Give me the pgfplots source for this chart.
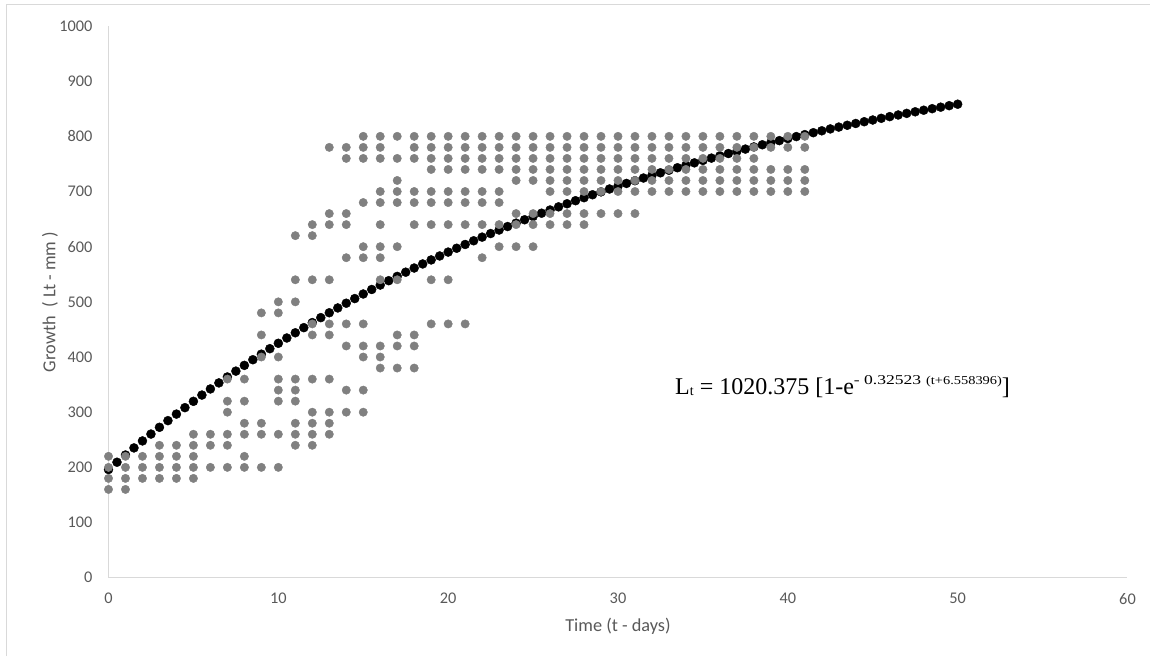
\documentclass[border=0pt]{standalone}
\usepackage{pgfplots}
\usepackage{pgfplotstable}
\pgfplotsset{compat=1.18}
\usepackage{fontspec}
\setmainfont{Carlito}
\newfontfamily\eqfont{Liberation Serif}

\definecolor{axisgray}{HTML}{D9D9D9}
\definecolor{labelgray}{HTML}{595959}
\definecolor{obsgray}{HTML}{808080}

% observed lengths (day, mm)
\pgfplotstableread{
t L
0 160
0 180
0 200
0 220
1 160
1 180
1 200
1 220
2 180
2 200
2 220
3 180
3 200
3 220
3 240
4 180
4 200
4 220
4 240
5 180
5 200
5 220
5 240
5 260
6 200
6 240
6 260
7 200
7 240
7 260
7 300
7 320
7 360
8 200
8 220
8 260
8 280
8 320
8 360
9 200
9 260
9 280
9 400
9 440
9 480
10 200
10 260
10 320
10 340
10 360
10 400
10 480
10 500
11 240
11 260
11 280
11 320
11 340
11 360
11 500
11 540
11 620
12 240
12 260
12 280
12 300
12 360
12 440
12 460
12 540
12 620
12 640
13 260
13 280
13 300
13 360
13 440
13 460
13 540
13 640
13 660
13 780
14 300
14 340
14 420
14 460
14 580
14 640
14 660
14 760
14 780
15 300
15 340
15 400
15 420
15 460
15 580
15 600
15 680
15 760
15 780
15 800
16 380
16 400
16 420
16 540
16 580
16 600
16 640
16 680
16 700
16 760
16 780
16 800
17 380
17 420
17 440
17 540
17 600
17 680
17 700
17 720
17 760
17 800
18 380
18 420
18 440
18 640
18 680
18 700
18 760
18 780
18 800
19 460
19 540
19 640
19 680
19 700
19 740
19 760
19 780
19 800
20 460
20 540
20 640
20 680
20 700
20 740
20 760
20 780
20 800
21 460
21 640
21 680
21 700
21 740
21 760
21 780
21 800
22 580
22 640
22 680
22 700
22 740
22 760
22 780
22 800
23 600
23 640
23 680
23 700
23 740
23 760
23 780
23 800
24 600
24 640
24 660
24 720
24 740
24 760
24 780
24 800
25 600
25 640
25 660
25 720
25 740
25 760
25 780
25 800
26 640
26 660
26 700
26 720
26 740
26 760
26 780
26 800
27 640
27 660
27 700
27 720
27 740
27 760
27 780
27 800
28 640
28 660
28 700
28 720
28 740
28 760
28 780
28 800
29 660
29 700
29 720
29 740
29 760
29 780
29 800
30 660
30 700
30 720
30 740
30 760
30 780
30 800
31 660
31 700
31 720
31 740
31 760
31 780
31 800
32 700
32 720
32 740
32 760
32 780
32 800
33 700
33 720
33 740
33 760
33 780
33 800
34 700
34 720
34 740
34 760
34 780
34 800
35 700
35 720
35 740
35 760
35 780
35 800
36 700
36 720
36 740
36 760
36 780
36 800
37 700
37 720
37 740
37 760
37 780
37 800
38 700
38 720
38 740
38 760
38 780
38 800
39 700
39 720
39 740
39 780
39 800
40 700
40 720
40 740
40 780
40 800
41 700
41 720
41 740
41 780
41 800
}\observed

% von Bertalanffy growth curve, tabulated every half day
\pgfplotstableread{
t L
0 196.00
0.5 209.30
1 222.38
1.5 235.25
2 247.91
2.5 260.37
3 272.63
3.5 284.69
4 296.56
4.5 308.24
5 319.72
5.5 331.03
6 342.14
6.5 353.08
7 363.85
7.5 374.44
8 384.86
8.5 395.11
9 405.19
9.5 415.12
10 424.88
10.5 434.48
11 443.93
11.5 453.23
12 462.38
12.5 471.38
13 480.24
13.5 488.95
14 497.52
14.5 505.95
15 514.25
15.5 522.42
16 530.45
16.5 538.35
17 546.13
17.5 553.78
18 561.30
18.5 568.71
19 575.99
19.5 583.16
20 590.21
20.5 597.15
21 603.98
21.5 610.69
22 617.30
22.5 623.80
23 630.20
23.5 636.49
24 642.69
24.5 648.78
25 654.77
25.5 660.67
26 666.47
26.5 672.18
27 677.79
27.5 683.32
28 688.76
28.5 694.11
29 699.37
29.5 704.55
30 709.64
30.5 714.65
31 719.58
31.5 724.44
32 729.21
32.5 733.91
33 738.53
33.5 743.07
34 747.55
34.5 751.95
35 756.28
35.5 760.54
36 764.73
36.5 768.85
37 772.91
37.5 776.90
38 780.83
38.5 784.69
39 788.49
39.5 792.23
40 795.91
40.5 799.54
41 803.10
41.5 806.60
42 810.05
42.5 813.44
43 816.78
43.5 820.07
44 823.30
44.5 826.48
45 829.60
45.5 832.68
46 835.71
46.5 838.69
47 841.62
47.5 844.50
48 847.34
48.5 850.13
49 852.88
49.5 855.58
50 858.24
}\fitted

\begin{document}
\begin{tikzpicture}
\useasboundingbox (-108.5pt,-78.3pt) rectangle (1041.5pt,577.7pt);
% chart area frame (top and left edges)
\draw[axisgray, line width=1pt] (-101.5pt,-78.3pt) -- (-101.5pt,572.7pt) -- (1041.5pt,572.7pt);
\begin{axis}[
  at={(0pt,0pt)}, anchor=south west,
  scale only axis,
  width=1019pt, height=551.7pt,
  xmin=0, xmax=60, ymin=0, ymax=1000,
  xtick distance=10, ytick distance=100,
  axis x line*=bottom, axis y line*=left,
  axis line style={axisgray, line width=1pt},
  major tick length=0pt,
  clip=false,
  /pgf/number format/assume math mode=true,
  /pgf/number format/1000 sep={},
  ticklabel style={font=\fontsize{16.3}{18}\selectfont, text=labelgray, inner sep=0pt},
  xticklabel style={anchor=north, yshift=-15.5pt},
  yticklabel style={anchor=east, xshift=-16pt},
  xlabel={Time (t - days)},
  ylabel={Growth\ \ ( Lt - mm )},
  every axis x label/.style={at={(axis description cs:0.5,0)}, anchor=center, yshift=-49pt,
    font=\fontsize{18.3}{20}\selectfont, text=labelgray, inner sep=0pt},
  every axis y label/.style={at={(axis description cs:0,0.5)}, anchor=center, rotate=90, yshift=58.5pt,
    font=\fontsize{18.3}{20}\selectfont, text=labelgray, inner sep=0pt},
]
\addplot[only marks, mark=*, mark size=4.5pt, mark options={draw=black, fill=black}] table[x=t, y=L] {\fitted};
\addplot[only marks, mark=*, mark size=4.2pt, mark options={draw=obsgray, fill=obsgray}] table[x=t, y=L] {\observed};
\end{axis}
\node[anchor=base west, inner sep=0pt, font=\eqfont\fontsize{24}{28}\selectfont]
  at (566.5pt,183.7pt)
  {L\raisebox{-2pt}{\fontsize{14}{16}\selectfont t} = 1020.375 [1-e\raisebox{9pt}{\fontsize{13.5}{15}\selectfont\scalebox{1.3}[1]{- 0.32523}\hspace{5pt}{\fontsize{12}{14}\selectfont\scalebox{1.2}[1]{(t+6.558396)}}}]};
\end{tikzpicture}
\end{document}
